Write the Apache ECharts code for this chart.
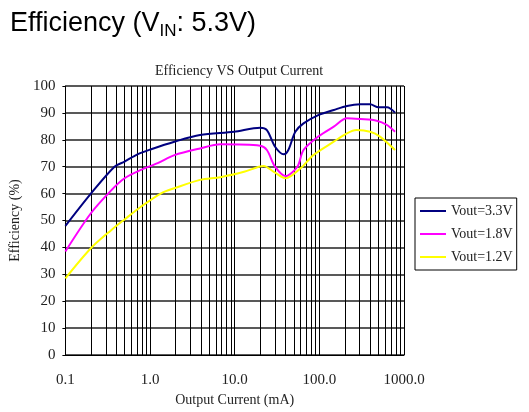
<!DOCTYPE html>
<html><head><meta charset="utf-8">
<script src="https://cdn.jsdelivr.net/npm/echarts@6/dist/echarts.min.js"></script>
<style>html,body{margin:0;padding:0;background:#fff}#c{width:529px;height:412px}</style>
</head><body><div id="c"></div>
<script>
const seriesNames = ['Vout=3.3V', 'Vout=1.8V', 'Vout=1.2V'];
const seriesColors = ['#000080', '#FF00FF', '#FFFF00'];
const v33 = [[0.1,48],[0.2,60],[0.38,70],[0.5,71.9],[0.71,74.6],[1.03,76.5],[1.94,79.3],[3.9,81.8],[9.8,83],[20,84.5],[24,83.6],[30,77.4],[38,74.6],[43,76.2],[52,83],[65,86.1],[97,89.2],[148,91.1],[212,92.6],[305,93.2],[398,93.2],[500,92.1],[630,92.1],[784,90.1]];
const v18 = [[0.1,38.5],[0.2,52.7],[0.35,61.3],[0.5,65.7],[0.78,68.8],[1.23,71.3],[1.94,74.3],[3.9,76.8],[6.8,78.3],[20,77.8],[24,76.2],[30,70],[40,66.5],[55,70],[65,76.2],[97,81.2],[148,84.9],[212,88],[305,87.7],[475,87.1],[630,85.5],[784,83]];
const v12 = [[0.1,28.5],[0.2,39.7],[0.35,46.5],[0.5,50.4],[0.78,55.1],[1.35,60.1],[1.94,62],[3.9,65.1],[6.8,66.1],[12.9,68.1],[22,70.3],[29,68.1],[40,65.7],[60,69.4],[85,74.3],[148,79.3],[212,82.4],[275,83.6],[398,83],[520,81.2],[784,76.2]];
const xTickLabels = {0.1:'0.1', 1:'1.0', 10:'10.0', 100:'100.0', 1000:'1000.0'};
const minorX = [0.2,0.3,0.4,0.5,0.6,0.7,0.8,0.9,2,3,4,5,6,7,8,9,20,30,40,50,60,70,80,90,200,300,400,500,600,700,800,900];

const serif = 'Liberation Serif';
const chart = echarts.init(document.getElementById('c'));
const data = [v33, v18, v12];
chart.setOption({
  animation: false,
  title: [{
    text: '{a|Efficiency (V}{b|IN}{a|: 5.3V)}',
    left: 5, top: 3,
    textStyle: {
      rich: {
        a: {fontFamily: 'Liberation Sans', fontSize: 27, fontWeight: 'normal', color: '#000', lineHeight: 32},
        b: {fontFamily: 'Liberation Sans', fontSize: 17, fontWeight: 'normal', color: '#000', lineHeight: 32, verticalAlign: 'bottom', padding: [9, 0, 0, 0]}
      }
    }
  }, {
    text: 'Efficiency VS Output Current',
    left: 234, top: 59, textAlign: 'center',
    textStyle: {fontFamily: serif, fontSize: 14, fontWeight: 'normal', color: '#222'}
  }],
  legend: {
    orient: 'vertical', left: 415, top: 198,
    width: 110,
    data: seriesNames,
    borderColor: '#000', borderWidth: 1, borderRadius: 0,
    padding: [6, 4, 6, 5],
    itemGap: 9, itemWidth: 26, itemHeight: 10,
    textStyle: {fontFamily: serif, fontSize: 14, color: '#222'},
    icon: 'path://M0,4 L26,4 L26,6 L0,6 Z'
  },
  grid: {left: 64, right: 125, top: 86, bottom: 57},
  xAxis: {
    type: 'log', logBase: 10, min: 0.1, max: 1000,
    name: 'Output Current (mA)', nameLocation: 'middle', nameGap: 38,
    nameTextStyle: {fontFamily: serif, fontSize: 14, color: '#222'},
    axisLine: {show: true, onZero: false, lineStyle: {color: '#000', width: 1}},
    axisTick: {show: false},
    axisLabel: {fontFamily: serif, fontSize: 15, color: '#222', margin: 18,
      formatter: v => { const k = Object.keys(xTickLabels).find(x => Math.abs(Number(x) - v) < 1e-9 * Math.max(1, v)); return k !== undefined ? xTickLabels[k] : ''; }},
    splitLine: {show: true, lineStyle: {color: '#000', width: 1}}
  },
  yAxis: {
    type: 'value', min: 0, max: 100, interval: 10,
    name: 'Efficiency (%)', nameLocation: 'middle', nameGap: 40, nameRotate: 90,
    nameTextStyle: {fontFamily: serif, fontSize: 14, color: '#222'},
    axisLine: {show: true, lineStyle: {color: '#000', width: 1}},
    axisTick: {show: true, length: 3, lineStyle: {color: '#000'}},
    axisLabel: {fontFamily: serif, fontSize: 15, color: '#222', margin: 10},
    splitLine: {show: true, lineStyle: {color: '#222', width: 1.5}}
  },
  series: seriesNames.map((n, i) => ({
    name: n, type: 'line', data: data[i], symbol: 'none', smooth: 0.3,
    color: seriesColors[i],
    lineStyle: {color: seriesColors[i], width: 2},
    z: 5,
    markLine: i === 0 ? {
      silent: true, symbol: ['none', 'none'], label: {show: false},
      lineStyle: {color: '#000', width: 1, type: 'solid'},
      data: minorX.map(v => ({xAxis: v})), z: 1
    } : undefined
  }))
});
</script></body></html>
